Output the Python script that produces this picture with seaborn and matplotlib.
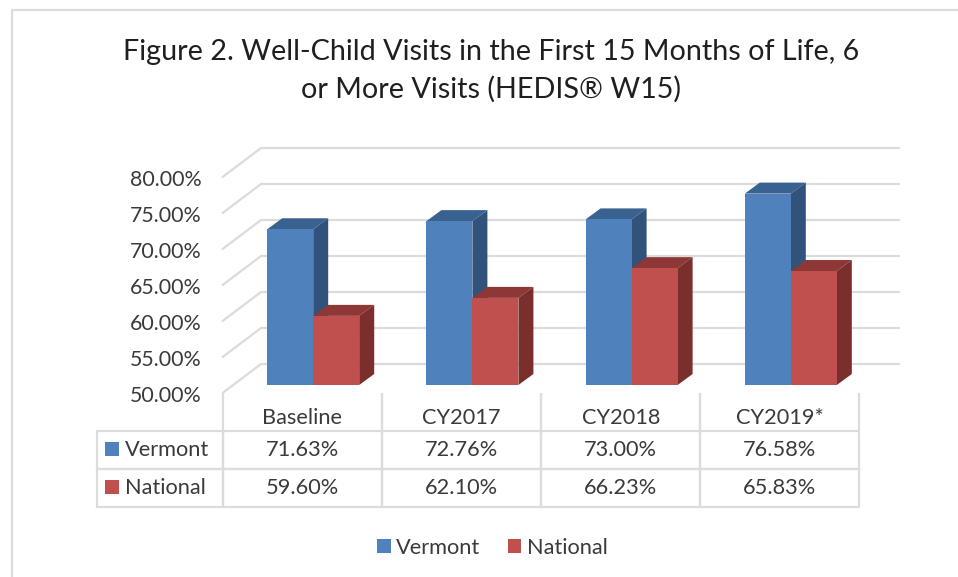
import matplotlib
matplotlib.use("Agg")
import matplotlib.pyplot as plt
import matplotlib.transforms as mtrans
from matplotlib.patches import Polygon, Rectangle
from matplotlib.lines import Line2D
import pandas as pd
import seaborn as sns

# chart values
periods = ["Baseline", "CY2017", "CY2018", "CY2019*"]
vermont = [71.63, 72.76, 73.00, 76.58]
national = [59.60, 62.10, 66.23, 65.83]
y_ticks = [50, 55, 60, 65, 70, 75, 80]

BLUE = "#4F81BD"
RED = "#C0504D"
GRID = "#DCDCDC"
TEXT = "#3A3A3A"

W, H = 958, 577

sns.set_theme(style="white")
plt.rcParams["font.family"] = ["Lato", "DejaVu Sans"]

df = pd.DataFrame({
    "period": periods * 2,
    "series": ["Vermont"] * 4 + ["National"] * 4,
    "rate": vermont + national,
})

fig = plt.figure(figsize=(W / 100, H / 100), dpi=100, facecolor="white")

# axes sit on the plane of the bars' front faces
left, right, base, top = 233.6, 870.4, 385, 169
ax = fig.add_axes([left / W, 1 - base / H, (right - left) / W, (base - top) / H])
ax.patch.set_visible(False)

sns.barplot(data=df, x="period", y="rate", hue="series", hue_order=["Vermont", "National"],
            palette=[BLUE, RED], width=0.578, gap=0, saturation=1, ax=ax, legend=False,
            zorder=3, linewidth=0, edgecolor="none")
ax.set_xlim(-0.5, 3.5)
ax.set_ylim(50, 80)
ax.set_xlabel("")
ax.set_ylabel("")
ax.set_xticks([])
sns.despine(ax=ax, left=True, bottom=True)

px_x = 4 / (right - left)  # data units per pixel
px_y = 30 / (base - top)


def shift(x, y, dx, dy):
    return (x + dx * px_x, y - dy * px_y)


# walls and gridlines in perspective
for t in y_ticks:
    a = shift(-0.5, t, -11, 8)
    b = shift(-0.5, t, 27.4, -21)
    c = shift(3.5, t, 28.6, -21)
    ax.add_line(Line2D([a[0], b[0], c[0]], [a[1], b[1], c[1]], color=GRID, lw=1.6,
                       clip_on=False, zorder=1, solid_joinstyle="miter"))

# 3d faces worked out from the drawn bars
depth = (15, -11)
for i, bar in enumerate(ax.patches):
    x0 = bar.get_x()
    x1 = x0 + bar.get_width()
    h = bar.get_height()
    dark_top, dark_side = ("#3A6290", "#31527B") if i < 4 else ("#8D3836", "#7A2F2D")
    z = 2 if i < 4 else 4
    bar.set_zorder(z + 1)
    top_face = [(x0, h), (x1, h), shift(x1, h, *depth), shift(x0, h, *depth)]
    side_face = [(x1, 50), shift(x1, 50, *depth), shift(x1, h, *depth), (x1, h)]
    ax.add_patch(Polygon(top_face, closed=True, fc=dark_top, ec="none", zorder=z, clip_on=False))
    ax.add_patch(Polygon(side_face, closed=True, fc=dark_side, ec="none", zorder=z, clip_on=False))

# y tick labels sit on the front edge of the wall
ax.set_yticks(y_ticks)
ax.set_yticklabels([f"{t:.2f}%" for t in y_ticks], fontsize=15.4, color=TEXT)
ax.tick_params(axis="y", length=0, pad=23)
for lab in ax.get_yticklabels():
    lab.set_transform(lab.get_transform() + mtrans.Affine2D().translate(0, -9))

# data table under the plot
tx0, tx1 = 97, 859.5
ty0, ty1 = 393, 507
rows = [["", *periods],
        ["Vermont", *[f"{v:.2f}%" for v in vermont]],
        ["National", *[f"{v:.2f}%" for v in national]]]
col_w = [125.7] + [159.2] * 4
tb = ax.table(cellText=rows, cellLoc="center", colWidths=[c / sum(col_w) for c in col_w],
              bbox=mtrans.Bbox.from_extents((tx0 - left) / (right - left), (base - ty1) / (base - top),
                                            (tx1 - left) / (right - left), (base - ty0) / (base - top)))
tb.auto_set_font_size(False)
for (r, c), cell in tb.get_celld().items():
    cell.set_edgecolor(GRID)
    cell.set_linewidth(1.6)
    cell.set_text_props(color=TEXT, fontsize=15.7)
    cell.set_facecolor("none")
    if r == 0:
        cell.visible_edges = "" if c == 0 else "LR"
        cell.get_text().set_transform(mtrans.Affine2D().translate(0, -6))
    if c == 0 and r > 0:
        cell.PAD = 0.22
        cell.get_text().set_ha("left")

# legend keys inside the table
for colour, yc in [(BLUE, 449), (RED, 487)]:
    fig.add_artist(Rectangle((104.7 / W, 1 - (yc + 7) / H), 14 / W, 14 / H, fc=colour, ec="none",
                             transform=fig.transFigure))

handles = [Rectangle((0, 0), 1, 1, fc=BLUE, ec="none"), Rectangle((0, 0), 1, 1, fc=RED, ec="none")]
leg = fig.legend(handles, ["Vermont", "National"], loc="center", bbox_to_anchor=(492.5 / W, 1 - 548 / H),
                 ncol=2, frameon=False, fontsize=15.7, handlelength=0.62, handleheight=0.62,
                 handletextpad=0.25, columnspacing=1.25, labelcolor=TEXT)

# title
fig.text(491 / W, 1 - 52 / H, "Figure 2. Well-Child Visits in the First 15 Months of Life, 6", ha="center",
         va="center", fontsize=20.7, color="#1F1F1F")
fig.text(491 / W, 1 - 89 / H, "or More Visits (HEDIS® W15)", ha="center", va="center", fontsize=20.7, color="#1F1F1F")

# chart frame
fig.add_artist(Line2D([11.5 / W, 11.5 / W, 1], [0, 1 - 10 / H, 1 - 10 / H], color=GRID, lw=1.6,
                      transform=fig.transFigure))

fig.savefig("out.png", dpi=100)
